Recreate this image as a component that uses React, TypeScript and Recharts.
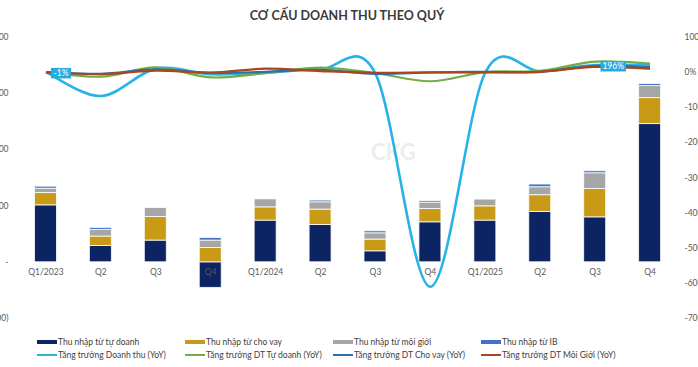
import { ComposedChart, Bar, Line, XAxis, YAxis, LabelList } from "recharts";

// quarters on the category axis
const quarters = [
  "Q1/2023", "Q2", "Q3", "Q4",
  "Q1/2024", "Q2", "Q3", "Q4",
  "Q1/2025", "Q2", "Q3", "Q4",
];

// revenue structure (left axis, tỷ đồng)
const selfTrading = [507, 145, 193, -228, 371, 332, 98, 356, 371, 448, 400, 1230];
const lending = [109, 84, 210, 127, 118, 137, 104, 118, 127, 149, 252, 231];
const brokerage = [39, 59, 80, 66, 71, 65, 56, 57, 60, 71, 140, 107];
const ibIncome = [18, 18, 0, 23, 0, 15, 18, 14, 0, 24, 18, 18];

// growth YoY (right axis, %)
const revenueYoY = [-1, -680, 100, -60, -16, 80, -43, -6110, -10, 26, 200, 196];
const selfTradingYoY = [0, -130, 135, -150, -27, 130, -30, -260, 0, 35, 300, 245];
const lendingYoY = [0, -50, 80, -20, 8, 63, -50, -7, 8, 9, 180, 140];
const brokerageYoY = [-5, -55, 40, -15, 100, 30, -20, -10, -10, 9, 150, 100];

const leftTicks = [-500, 0, 500, 1000, 1500, 2000];
const rightTicks = [-7000, -6000, -5000, -4000, -3000, -2000, -1000, 0, 1000];

const data = quarters.map((q, i) => ({
  q,
  selfTrading: selfTrading[i],
  lending: lending[i],
  brokerage: brokerage[i],
  ib: ibIncome[i],
  revenueYoY: revenueYoY[i],
  selfTradingYoY: selfTradingYoY[i],
  lendingYoY: lendingYoY[i],
  brokerageYoY: brokerageYoY[i],
}));

// =========================
// COLORS
// =========================
const NAVY = "#0c2461";
const GOLD = "#c99a16";
const GRAY = "#a6a6a6";
const IB_BLUE = "#4472c4";
const CYAN = "#29b2e6";
const GREEN = "#70ad47";
const STEEL = "#2f6ea8";
const BROWN = "#a8461c";
const TEXT = "#595959";

const legendRow1 = [
  { name: "Thu nhập từ tự doanh", color: NAVY },
  { name: "Thu nhập từ cho vay", color: GOLD },
  { name: "Thu nhập từ môi giới", color: GRAY },
  { name: "Thu nhập từ IB", color: IB_BLUE },
];
const legendRow2 = [
  { name: "Tăng trưởng Doanh thu (YoY)", color: CYAN },
  { name: "Tăng trưởng DT Tự doanh (YoY)", color: GREEN },
  { name: "Tăng trưởng DT Cho vay (YoY)", color: STEEL },
  { name: "Tăng trưởng DT Môi Giới (YoY)", color: BROWN },
];

// geometry
const SHIFT = 50; // chart sticks out on both sides, axis labels get cut like the source
const CHART_W = 798;
const CHART_H = 367;
const MARGIN = { top: 37, right: 10.5, bottom: 29, left: 8.5 };
const X_AXIS_H = 20;
const PLOT_H = CHART_H - MARGIN.top - MARGIN.bottom - X_AXIS_H;
const L_MIN = -500;
const L_MAX = 2000;
const zeroShift = (PLOT_H * (0 - L_MIN)) / (L_MAX - L_MIN);

// excel-like smoothed line (catmull-rom as bezier)
function excelSmooth(context: any) {
  let pts: number[][] = [];
  return {
    areaStart() {},
    areaEnd() {},
    lineStart() {
      pts = [];
    },
    point(x: number, y: number) {
      pts.push([+x, +y]);
    },
    lineEnd() {
      const n = pts.length;
      if (!n) return;
      context.moveTo(pts[0][0], pts[0][1]);
      for (let i = 0; i < n - 1; i++) {
        const p0 = pts[Math.max(i - 1, 0)];
        const p1 = pts[i];
        const p2 = pts[i + 1];
        const p3 = pts[Math.min(i + 2, n - 1)];
        context.bezierCurveTo(
          p1[0] + (p2[0] - p0[0]) / 6,
          p1[1] + (p2[1] - p0[1]) / 6,
          p2[0] - (p3[0] - p1[0]) / 6,
          p2[1] - (p3[1] - p1[1]) / 6,
          p2[0],
          p2[1]
        );
      }
    },
  };
}

const fmtLeft = (v: number) =>
  v === 0
    ? "-"
    : v < 0
    ? `(${Math.abs(v).toLocaleString("en-US")})`
    : v.toLocaleString("en-US");

const QuarterTick = (props: any) => {
  const { x, y, payload } = props;
  return (
    <text
      x={x}
      y={y - zeroShift}
      dy="0.71em"
      textAnchor="middle"
      fontSize={8.5}
      fill={TEXT}
    >
      {payload.value}
    </text>
  );
};

// only first and last point carry a label box
const RevenueLabel = (props: any) => {
  const { x, y, value, index } = props;
  if (index !== 0 && index !== quarters.length - 1) return null;
  const txt = `${value}%`;
  const w = txt.length * 5.4 + 4;
  const h = 10.5;
  const bx = index === 0 ? x + 5 : x - 24 - w;
  const by = y - h / 2 + 1;
  return (
    <g>
      <rect x={bx} y={by} width={w} height={h} fill="#29abe2" />
      <text
        x={bx + w / 2}
        y={by + h / 2}
        dy="0.35em"
        textAnchor="middle"
        fontSize={8.5}
        fill="#ffffff"
      >
        {txt}
      </text>
    </g>
  );
};

export default function App() {
  return (
    <div
      style={{
        position: "absolute",
        left: 0,
        top: 0,
        width: 698,
        height: 367,
        overflow: "hidden",
        background: "#ffffff",
        fontFamily: "Lato, 'Open Sans', sans-serif",
      }}
    >
      {/* TITLE */}
      <div
        style={{
          position: "absolute",
          left: 0,
          top: 8,
          width: 694,
          textAlign: "center",
          fontSize: 12.5,
          fontWeight: 700,
          color: "#3a3a3a",
        }}
      >
        CƠ CẤU DOANH THU THEO QUÝ
      </div>

      {/* WATERMARK */}
      <div
        style={{
          position: "absolute",
          left: 371,
          top: 138,
          fontSize: 22,
          fontWeight: 700,
          color: "#ededed",
        }}
      >
        CKG
      </div>

      <div style={{ position: "absolute", left: -SHIFT, top: 0 }}>
        <ComposedChart
          width={CHART_W}
          height={CHART_H}
          data={data}
          margin={MARGIN}
          stackOffset="sign"
        >
          <XAxis
            dataKey="q"
            height={X_AXIS_H}
            axisLine={false}
            tickLine={false}
            tickSize={0}
            tickMargin={7}
            interval={0}
            tick={<QuarterTick />}
          />
          <YAxis
            yAxisId="left"
            width={60}
            domain={[L_MIN, L_MAX]}
            ticks={leftTicks}
            tickFormatter={fmtLeft}
            axisLine={false}
            tickLine={false}
            tickSize={0}
            tickMargin={10}
            tick={{ fontSize: 8.5, fill: TEXT }}
          />
          <YAxis
            yAxisId="right"
            orientation="right"
            width={60}
            domain={[-7000, 1000]}
            ticks={rightTicks}
            tickFormatter={(v: number) => `${v}%`}
            axisLine={false}
            tickLine={false}
            tickSize={0}
            tickMargin={7}
            tick={{ fontSize: 8.5, fill: TEXT, textAnchor: "start" }}
          />

          <Bar yAxisId="left" dataKey="selfTrading" stackId="rev" fill={NAVY} barSize={22} stroke="#ffffff" strokeWidth={0.8} isAnimationActive={false} />
          <Bar yAxisId="left" dataKey="lending" stackId="rev" fill={GOLD} barSize={22} stroke="#ffffff" strokeWidth={0.8} isAnimationActive={false} />
          <Bar yAxisId="left" dataKey="brokerage" stackId="rev" fill={GRAY} barSize={22} stroke="#ffffff" strokeWidth={0.8} isAnimationActive={false} />
          <Bar yAxisId="left" dataKey="ib" stackId="rev" fill={IB_BLUE} barSize={22} stroke="#ffffff" strokeWidth={0.8} isAnimationActive={false} />

          <Line yAxisId="right" dataKey="revenueYoY" type={excelSmooth as any} stroke={CYAN} strokeWidth={2.6} dot={false} isAnimationActive={false}>
            <LabelList dataKey="revenueYoY" content={<RevenueLabel />} />
          </Line>
          <Line yAxisId="right" dataKey="selfTradingYoY" type={excelSmooth as any} stroke={GREEN} strokeWidth={2.2} dot={false} isAnimationActive={false} />
          <Line yAxisId="right" dataKey="lendingYoY" type={excelSmooth as any} stroke={STEEL} strokeWidth={2.2} dot={false} isAnimationActive={false} />
          <Line yAxisId="right" dataKey="brokerageYoY" type={excelSmooth as any} stroke={BROWN} strokeWidth={2.2} dot={false} isAnimationActive={false} />
        </ComposedChart>
      </div>

      {/* LEGEND */}
      {[legendRow1, legendRow2].map((row, r) =>
        row.map((item, c) => (
          <div
            key={item.name}
            style={{
              position: "absolute",
              left: 37 + c * 148,
              top: 336 + r * 12.5,
              height: 12,
              display: "flex",
              alignItems: "center",
              fontSize: 8.5,
              color: "#404040",
              whiteSpace: "nowrap",
            }}
          >
            <span
              style={{
                display: "inline-block",
                width: 20,
                height: r === 0 ? 4 : 2,
                background: item.color,
                marginRight: 1,
              }}
            />
            {item.name}
          </div>
        ))
      )}
    </div>
  );
}
